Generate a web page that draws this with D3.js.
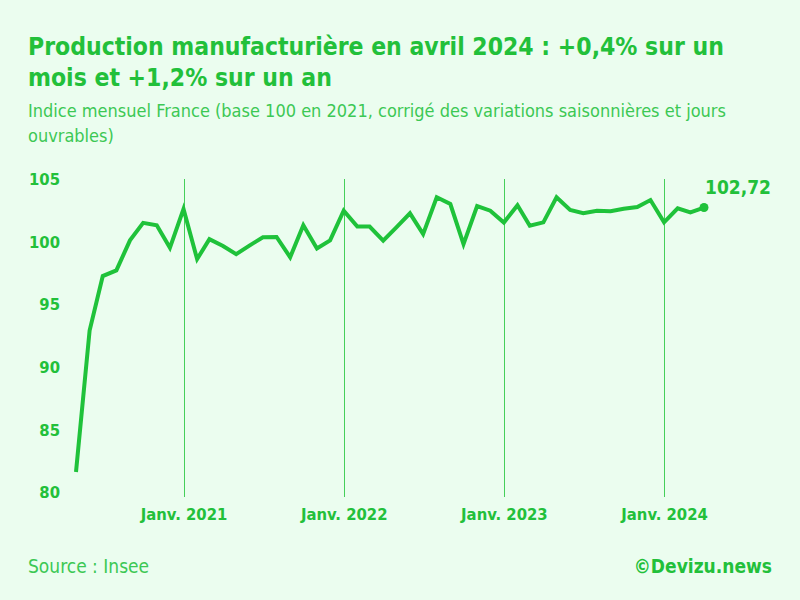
<!DOCTYPE html>
<html>
<head>
<meta charset="utf-8">
<title>Production manufacturière</title>
<script src="https://cdn.jsdelivr.net/npm/d3@7"></script>
<style>
  body { margin: 0; background: #ebfdef; }
  svg { display: block; }
  .titre { font-family: "DejaVu Sans Condensed", sans-serif; font-weight: bold; font-size: 24.5px; fill: #22c03a; }
  .soustitre { font-family: "DejaVu Sans Condensed", sans-serif; font-size: 18px; fill: #3cc854; }
  .axe text { font-family: "DejaVu Sans Condensed", sans-serif; font-weight: bold; font-size: 16.5px; fill: #22c03a; }
  .pied { font-family: "DejaVu Sans Condensed", sans-serif; font-size: 19px; fill: #3cc854; }
</style>
</head>
<body>
<script>
// indice mensuel, mai 2020 -> avril 2024
var debut = new Date(2020, 4, 1);
var valeurs = [81.6, 92.9, 97.25, 97.7, 100.1, 101.5, 101.3, 99.5,
  102.6, 98.6, 100.2, 99.65, 99.0, 99.7, 100.35, 100.37, 98.75, 101.3, 99.45, 100.1,
  102.47, 101.2, 101.2, 100.07, 101.14, 102.26, 100.6, 103.54, 103.0, 99.8, 102.84, 102.47,
  101.52, 102.9, 101.27, 101.54, 103.54, 102.52, 102.26, 102.47, 102.42, 102.63, 102.76, 103.32,
  101.54, 102.66, 102.34, 102.72];
var yTicks = [80, 85, 90, 95, 100, 105];
var xTicks = [new Date(2021, 0, 1), new Date(2022, 0, 1), new Date(2023, 0, 1), new Date(2024, 0, 1)];
var xLabels = ["Janv. 2021", "Janv. 2022", "Janv. 2023", "Janv. 2024"];

var data = valeurs.map(function (v, i) {
  return { date: new Date(2020, 4 + i, 1), valeur: v };
});

var width = 800, height = 600;
var svg = d3.select("body").append("svg")
  .attr("width", width)
  .attr("height", height);

svg.append("rect").attr("width", width).attr("height", height).attr("fill", "#ebfdef");

var x = d3.scaleTime()
  .domain([debut, new Date(2024, 3, 1)])
  .range([76, 704]);
var y = d3.scaleLinear()
  .domain([80, 105])
  .range([492, 179]);

// titres
svg.append("text").attr("class", "titre").attr("x", 28).attr("y", 55)
  .text("Production manufacturière en avril 2024 : +0,4% sur un");
svg.append("text").attr("class", "titre").attr("x", 28).attr("y", 86)
  .text("mois et +1,2% sur un an");
svg.append("text").attr("class", "soustitre").attr("x", 28).attr("y", 117)
  .text("Indice mensuel France (base 100 en 2021, corrigé des variations saisonnières et jours");
svg.append("text").attr("class", "soustitre").attr("x", 28).attr("y", 142)
  .text("ouvrables)");

// lignes verticales janvier
svg.append("g").selectAll("line")
  .data(xTicks)
  .enter().append("line")
  .attr("x1", function (d) { return Math.round(x(d)) + 0.5; })
  .attr("x2", function (d) { return Math.round(x(d)) + 0.5; })
  .attr("y1", y(105))
  .attr("y2", y(80) + 5)
  .attr("stroke", "#45cf5a")
  .attr("stroke-width", 1);

// axe y
var yAxis = d3.axisLeft(y).tickValues(yTicks).tickSize(0).tickPadding(0);
var gy = svg.append("g").attr("class", "axe")
  .attr("transform", "translate(60,0)")
  .call(yAxis);
gy.select(".domain").remove();
gy.selectAll("text").attr("dy", "0.35em");

// axe x
var xAxis = d3.axisBottom(x).tickValues(xTicks).tickSize(0).tickPadding(0)
  .tickFormat(function (d, i) { return xLabels[i]; });
var gx = svg.append("g").attr("class", "axe")
  .attr("transform", "translate(0,520)")
  .call(xAxis);
gx.select(".domain").remove();
gx.selectAll("text").attr("dy", 0);

// courbe
var ligne = d3.line()
  .x(function (d) { return x(d.date); })
  .y(function (d) { return y(d.valeur); });

svg.append("path")
  .datum(data)
  .attr("d", ligne)
  .attr("fill", "none")
  .attr("stroke", "#1fc23a")
  .attr("stroke-width", 4)
  .attr("stroke-linejoin", "miter");

var dernier = data[data.length - 1];
svg.append("circle")
  .attr("cx", x(dernier.date))
  .attr("cy", y(dernier.valeur))
  .attr("r", 4.5)
  .attr("fill", "#1fc23a");
svg.append("text")
  .attr("x", x(dernier.date) + 1)
  .attr("y", y(dernier.valeur) - 14)
  .attr("font-family", "'DejaVu Sans Condensed', sans-serif")
  .attr("font-weight", "bold")
  .attr("font-size", "19px")
  .attr("fill", "#22c03a")
  .text(String(dernier.valeur).replace(".", ","));

// pied
svg.append("text").attr("class", "pied").attr("x", 28).attr("y", 573).text("Source : Insee");
svg.append("text").attr("class", "pied").attr("x", 772).attr("y", 573)
  .attr("text-anchor", "end").attr("font-weight", "bold")
  .style("fill", "#22c03a")
  .text("©Devizu.news");
</script>
</body>
</html>
